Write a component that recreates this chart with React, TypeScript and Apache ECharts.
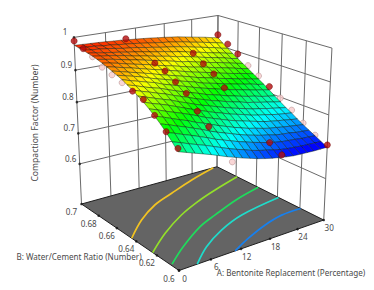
import React, { useEffect, useRef } from "react";
import * as echarts from "echarts";

const W = 374;
const H = 290;

const aTicks = [0, 6, 12, 18, 24, 30];
const bTicks = [0.6, 0.62, 0.64, 0.66, 0.68, 0.7];
const zTicks = [0.6, 0.7, 0.8, 0.9, 1];

// Contours printed on the floor, [A, B]
const contourOrange = [[0,0.6446],[5,0.6608],[10.2,0.6735],[15.5,0.6818],[22.1,0.6916],[29.1,0.7]];
const contourLime = [[0,0.624],[5.4,0.639],[11.6,0.653],[17.9,0.6637],[22.8,0.6704],[30,0.679]];
const contourGreen = [[0.3,0.6076],[5,0.62],[11.5,0.6344],[16.3,0.6417],[23,0.651],[30,0.658]];
const contourCyan = [[3.4,0.6],[8,0.6127],[13.6,0.624],[20,0.6327],[30,0.639]];
const contourBlue = [[10.8,0.6],[15.3,0.6074],[20.7,0.6147],[25.5,0.619],[30,0.6194]];
const contourColors = ["#f2c322", "#93e02a", "#1fdc5c", "#1fdccb", "#1780ee"];

// Compaction factor x 1000; rows B = 0.60..0.70 (step 0.005), columns A = 0..30 (step 1.5)
const surface = [
  [805,797,789,781,773,764,755,747,739,732,725,719,714,710,706,703,702,701,700,700,700],
  [824,816,807,799,791,782,773,764,756,749,741,735,730,725,720,717,715,713,712,711,710],
  [842,834,825,817,808,799,789,781,773,765,758,751,745,739,734,730,728,726,723,722,720],
  [858,850,841,833,824,815,805,796,788,780,772,765,759,753,749,743,740,738,734,732,730],
  [872,864,855,846,838,828,820,811,802,794,786,779,772,767,761,756,753,749,746,743,740],
  [885,877,868,860,852,843,834,824,816,808,800,793,787,781,775,769,765,761,758,754,751],
  [897,888,881,873,864,855,846,838,829,821,814,806,800,794,787,782,778,773,769,766,763],
  [907,899,891,883,876,866,858,849,841,834,826,819,812,806,800,794,790,785,781,777,773],
  [917,909,902,894,887,878,870,862,853,846,838,832,825,819,814,807,803,798,794,789,785],
  [925,918,910,903,897,888,880,872,865,858,850,844,838,831,826,820,815,811,805,801,797],
  [934,926,920,913,907,898,891,884,877,870,863,857,851,845,839,834,829,824,819,815,810],
  [940,934,928,922,914,907,901,894,887,881,875,867,862,857,851,846,841,836,832,826,822],
  [946,940,934,928,922,916,909,903,897,891,885,878,873,868,862,857,852,847,842,837,833],
  [952,947,941,936,930,924,918,913,907,901,895,889,884,879,874,868,863,858,854,849,844],
  [957,953,948,942,937,932,927,921,915,911,905,899,894,890,885,879,875,870,865,859,855],
  [962,958,954,949,944,940,935,930,925,920,915,909,906,900,896,890,886,881,876,871,866],
  [966,962,959,955,951,946,942,938,933,929,925,919,916,911,906,901,896,892,887,881,877],
  [969,966,962,959,956,952,949,945,941,937,934,929,926,921,916,912,907,902,898,893,888],
  [972,969,968,965,962,958,956,953,949,946,942,939,936,932,928,923,919,914,910,904,900],
  [974,972,971,968,967,964,962,960,957,954,951,948,946,942,939,934,930,926,921,917,912],
  [976,975,974,973,972,970,969,967,965,963,961,958,956,953,950,946,942,938,934,929,925],
];

// [A, B, compaction factor] of design points above / below the surface
const pointsAbove = [
  [0,0.7,0.989],[0,0.69,0.977],[0,0.64,0.914],[0,0.63,0.904],[0,0.62,0.874],[0,0.61,0.844],[0,0.6,0.814],
  [10,0.7,0.971],[10,0.67,0.929],[10,0.66,0.917],[10,0.65,0.897],[10,0.64,0.876],[10,0.63,0.837],[10,0.62,0.806],
  [20,0.68,0.921],[20,0.67,0.899],[20,0.66,0.879],[20,0.65,0.848],[20,0.61,0.737],[20,0.6,0.716],
  [30,0.7,0.935],[30,0.69,0.914],[30,0.68,0.892],[30,0.65,0.821],[30,0.6,0.707],
];
const pointsBelow = [
  [0,0.68,0.964],[0,0.67,0.945],[0,0.66,0.935],[0,0.65,0.925],
  [10,0.6,0.736],
  [30,0.67,0.865],[30,0.66,0.843],[30,0.64,0.797],[30,0.63,0.772],[30,0.62,0.745],[30,0.61,0.722],
];

const A_MAX = 30;
const B_MIN = 0.6;
const B_RANGE = 0.1;
const Z_FLOOR = 0.465;
const Z_RANGE = 0.535;

// camera: homogeneous projection of the unit box (u = A, v = B, w = factor)
function project(a: number, b: number, z: number): [number, number] {
  const u = a / A_MAX;
  const v = (b - B_MIN) / B_RANGE;
  const w = (z - Z_FLOOR) / Z_RANGE;
  const d = 1 + 0.129 * u + 0.1695 * v - 0.0701 * w;
  return [
    (186.5 * u - 83.7 * v + 179 - 14 * w) / d,
    (-22.1 * u - 31.9 * v + 270.5 - 197.5 * w) / d,
  ];
}

const aAt = (i: number) => (i * A_MAX) / 20;
const bAt = (j: number) => B_MIN + (j * B_RANGE) / 20;

function ramp(z: number): string {
  const zMin = 0.705;
  const zMax = 0.985;
  const t = Math.max(0, Math.min(1, (z - zMin) / (zMax - zMin))) * 4;
  const stops = [[0,0,255],[0,255,255],[0,255,0],[255,255,0],[255,0,0]];
  const k = Math.min(3, Math.floor(t));
  const f = t - k;
  const c = stops[k].map((s, n) => Math.round(s + (stops[k + 1][n] - s) * f));
  return `rgb(${c[0]},${c[1]},${c[2]})`;
}

const FONT = "Noto Sans";
const TEXT = "#4a4a4a";

function label(text: string, x: number, y: number, rotation = 0, size = 8.1) {
  return {
    type: "text",
    x,
    y,
    rotation,
    silent: true,
    style: { text, fill: TEXT, fontFamily: FONT, fontSize: size, align: "center", textAlign: "center", verticalAlign: "middle", textVerticalAlign: "middle" },
  };
}

export default function App() {
  const ref = useRef<HTMLDivElement>(null);
  useEffect(() => {
    const chart = echarts.init(ref.current!, undefined, { renderer: "svg" });
    const aMin = aTicks[0];
    const aMax = aTicks[aTicks.length - 1];
    const bMin = bTicks[0];
    const bMax = bTicks[bTicks.length - 1];
    const zTop = zTicks[zTicks.length - 1];

    const wall: number[][] = [];
    aTicks.forEach((a) => wall.push([a, bMax, Z_FLOOR, a, bMax, zTop]));
    bTicks.forEach((b) => wall.push([aMax, b, Z_FLOOR, aMax, b, zTop]));
    zTicks.forEach((z) => {
      wall.push([aMin, bMax, z, aMax, bMax, z]);
      wall.push([aMax, bMax, z, aMax, bMin, z]);
    });

    const floorEdges = [
      [aMin, bMax, Z_FLOOR, aMax, bMax, Z_FLOOR],
      [aMax, bMax, Z_FLOOR, aMax, bMin, Z_FLOOR],
      [aMax, bMin, Z_FLOOR, aMin, bMin, Z_FLOOR],
      [aMin, bMin, Z_FLOOR, aMin, bMax, Z_FLOOR],
    ];

    const cells: number[][] = [];
    for (let j = 19; j >= 0; j--) for (let i = 19; i >= 0; i--) cells.push([i, j]);

    const tickDots = [
      ...zTicks.map((z) => project(aMin, bMax, z)),
      ...aTicks.map((a) => project(a, bMin, Z_FLOOR)),
      ...bTicks.map((b) => project(aMin, b, Z_FLOOR)),
    ];

    const lineSeries = (data: number[][], z: number, stroke: string, lineWidth: number) => ({
      type: "custom",
      silent: true,
      clip: false,
      z,
      data,
      renderItem: (_: any, api: any) => {
        const p = api.coord(project(api.value(0), api.value(1), api.value(2)));
        const q = api.coord(project(api.value(3), api.value(4), api.value(5)));
        return { type: "line", shape: { x1: p[0], y1: p[1], x2: q[0], y2: q[1] }, style: { stroke, lineWidth } };
      },
    });

    const contourSeries = [contourOrange, contourLime, contourGreen, contourCyan, contourBlue].map((c, n) => ({
      type: "line",
      silent: true,
      clip: false,
      z: 4,
      smooth: 0.35,
      showSymbol: false,
      symbol: "none",
      lineStyle: { color: contourColors[n], width: 1.7 },
      data: c.map((p) => project(p[0], p[1], Z_FLOOR)),
    }));

    const graphics: any[] = [
      label("Compaction Factor (Number)", 35, 123, Math.PI / 2, 8.6),
      label("B: Water/Cement Ratio (Number)", 79, 256.5),
      label("A: Bentonite Replacement (Percentage)", 291, 272.5),
    ];
    zTicks.forEach((z) => {
      const p = project(aMin, bMax, z);
      graphics.push(label(String(z), p[0] - 9, p[1] - 5.5));
    });
    bTicks.forEach((b) => {
      const p = project(aMin, b, Z_FLOOR);
      graphics.push(label(String(b), p[0] - 10, p[1] + 7.5));
    });
    aTicks.forEach((a) => {
      const p = project(a, bMin, Z_FLOOR);
      graphics.push(label(String(a), p[0] + 5.5, p[1] + 7.5));
    });

    chart.setOption({
      animation: false,
      backgroundColor: "#ffffff",
      grid: { left: 0, right: 0, top: 0, bottom: 0 },
      xAxis: { type: "value", min: 0, max: W, show: false },
      yAxis: { type: "value", min: 0, max: H, inverse: true, show: false },
      graphic: { elements: graphics },
      series: [
        lineSeries(wall, 1, "#6a6a6a", 1),
        {
          type: "custom",
          silent: true,
          clip: false,
          z: 2,
          data: [[0]],
          renderItem: (_: any, api: any) => ({
            type: "polygon",
            shape: {
              points: [
                [aMin, bMin], [aMax, bMin], [aMax, bMax], [aMin, bMax],
              ].map((c) => api.coord(project(c[0], c[1], Z_FLOOR))),
            },
            style: { fill: "#646464" },
          }),
        },
        lineSeries(floorEdges, 3, "#1e1e1e", 1),
        ...contourSeries,
        {
          type: "scatter",
          silent: true,
          clip: false,
          z: 5,
          symbolSize: 2.6,
          itemStyle: { color: "#111111" },
          data: tickDots,
        },
        {
          type: "scatter",
          silent: true,
          clip: false,
          z: 6,
          symbolSize: 6,
          itemStyle: { color: "#f7cccc", borderColor: "#a88080", borderWidth: 0.6 },
          data: pointsBelow.map((p) => project(p[0], p[1], p[2])),
        },
        {
          type: "custom",
          silent: true,
          clip: false,
          z: 7,
          data: cells,
          renderItem: (_: any, api: any) => {
            const i = api.value(0);
            const j = api.value(1);
            const corners = [[i, j], [i + 1, j], [i + 1, j + 1], [i, j + 1]];
            const vals = corners.map((c) => surface[c[1]][c[0]] / 1000);
            const mean = (vals[0] + vals[1] + vals[2] + vals[3]) / 4;
            return {
              type: "polygon",
              shape: {
                points: corners.map((c, n) => api.coord(project(aAt(c[0]), bAt(c[1]), vals[n]))),
              },
              style: { fill: ramp(mean), stroke: "rgba(10,25,15,0.85)", lineWidth: 0.5 },
            };
          },
        },
        {
          type: "scatter",
          silent: true,
          clip: false,
          z: 8,
          symbolSize: 6.2,
          itemStyle: { color: "#b30c0c", borderColor: "#6e0404", borderWidth: 0.6 },
          data: pointsAbove.map((p) => project(p[0], p[1], p[2])),
        },
      ],
    });
    return () => chart.dispose();
  }, []);
  return <div ref={ref} style={{ position: "fixed", left: 0, top: 0, width: W, height: H }} />;
}
